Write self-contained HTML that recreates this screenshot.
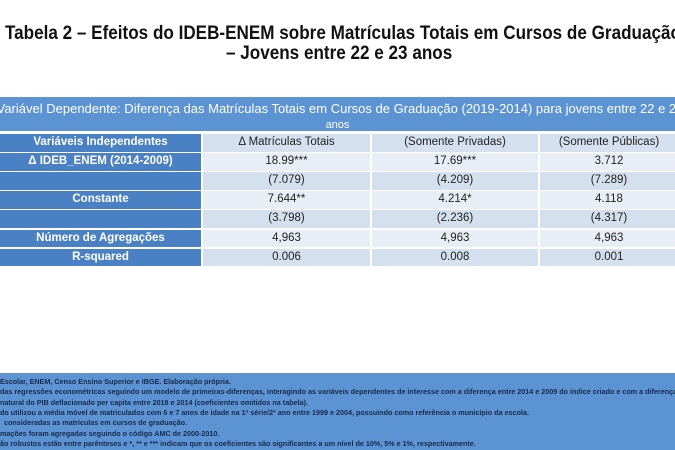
<!DOCTYPE html>
<html><head><meta charset="utf-8"><style>
body{margin:0;width:675px;height:450px;background:#fff;position:relative;overflow:hidden;font-family:"Liberation Sans","DejaVu Sans",sans-serif}
.t{position:absolute;font-weight:bold;font-size:19px;color:#111;white-space:nowrap;transform-origin:0 0;transform:scaleX(0.9)}
.band{position:absolute;left:0;width:675px;background:#5b93d3}
.cell{position:absolute;height:17px;line-height:17px;text-align:center;font-size:11.5px;color:#222;white-space:nowrap;overflow:hidden}
.c1{background:#4a80c4;color:#fff;font-weight:bold}
.fn{position:absolute;left:0;font-size:7.2px;color:#1a2a4a;font-weight:bold;white-space:nowrap}
</style></head><body>
<div class="t" style="top:23px;left:5px">Tabela 2 – Efeitos do IDEB-ENEM sobre Matrículas Totais em Cursos de Graduação</div>
<div class="t" style="top:43px;left:226px">– Jovens entre 22 e 23 anos</div>
<div class="band" style="top:97px;height:34px"></div>
<div class="cell" style="top:100px;left:-40px;width:760px;color:#fff;background:none;font-size:13px">Variável Dependente: Diferença das Matrículas Totais em Cursos de Graduação (2019-2014) para jovens entre 22 e 23</div>
<div class="cell" style="top:117px;left:0;width:675px;color:#fff;background:none;font-size:11px">anos</div>
<div id="tbl"></div>
<div class="band" style="top:373px;height:77px"></div>
<div id="fns"></div>
<script>
const rows=[
["Variáveis Independentes","Δ Matrículas Totais","(Somente Privadas)","(Somente Públicas)"],
["Δ IDEB_ENEM (2014-2009)","18.99***","17.69***","3.712"],
["","(7.079)","(4.209)","(7.289)"],
["Constante","7.644**","4.214*","4.118"],
["","(3.798)","(2.236)","(4.317)"],
["Número de Agregações","4,963","4,963","4,963"],
["R-squared","0.006","0.008","0.001"]];
const xs=[0,203,372,540,680];
const tbl=document.getElementById('tbl');
rows.forEach((r,i)=>{
 const top=134+i*19.1;
 r.forEach((txt,j)=>{
  const d=document.createElement('div');
  d.className='cell'+(j==0?' c1':'');
  
  
  d.style.top=top+'px';d.style.left=xs[j]+'px';d.style.width=(xs[j+1]-xs[j]-2)+'px';
  d.style.height='17.5px';
  if(j>0)d.style.background=(i%2==0)?'#d5e0ef':'#e9eef6';
  d.textContent=txt;tbl.appendChild(d);
 });
});
const fns=["Escolar, ENEM, Censo Ensino Superior e IBGE. Elaboração própria.",
"das regressões econométricas seguindo um modelo de primeiras-diferenças, interagindo as variáveis dependentes de interesse com a diferença entre 2014 e 2009 do índice criado e com a diferença",
"natural do PIB deflacionado per capita entre 2018 e 2014 (coeficientes omitidos na tabela).",
"do utilizou a média móvel de matriculados com 6 e 7 anos de idade na 1ª série/2º ano entre 1999 e 2004, possuindo como referência o município da escola.",
"consideradas as matrículas em cursos de graduação.",
"mações foram agregadas seguindo o código AMC de 2000-2010.",
"ão robustos estão entre parênteses e *, ** e *** indicam que os coeficientes são significantes a um nível de 10%, 5% e 1%, respectivamente."];
const lefts=[0,0,0,0,4,0,0];
const fd=document.getElementById('fns');
fns.forEach((t,i)=>{
 const d=document.createElement('div');d.className='fn';
 
 
 d.style.top=(377+i*10.3)+'px';
 d.style.left=lefts[i]+'px';
 d.textContent=t;
 fd.appendChild(d);
});
</script>
</body></html>
